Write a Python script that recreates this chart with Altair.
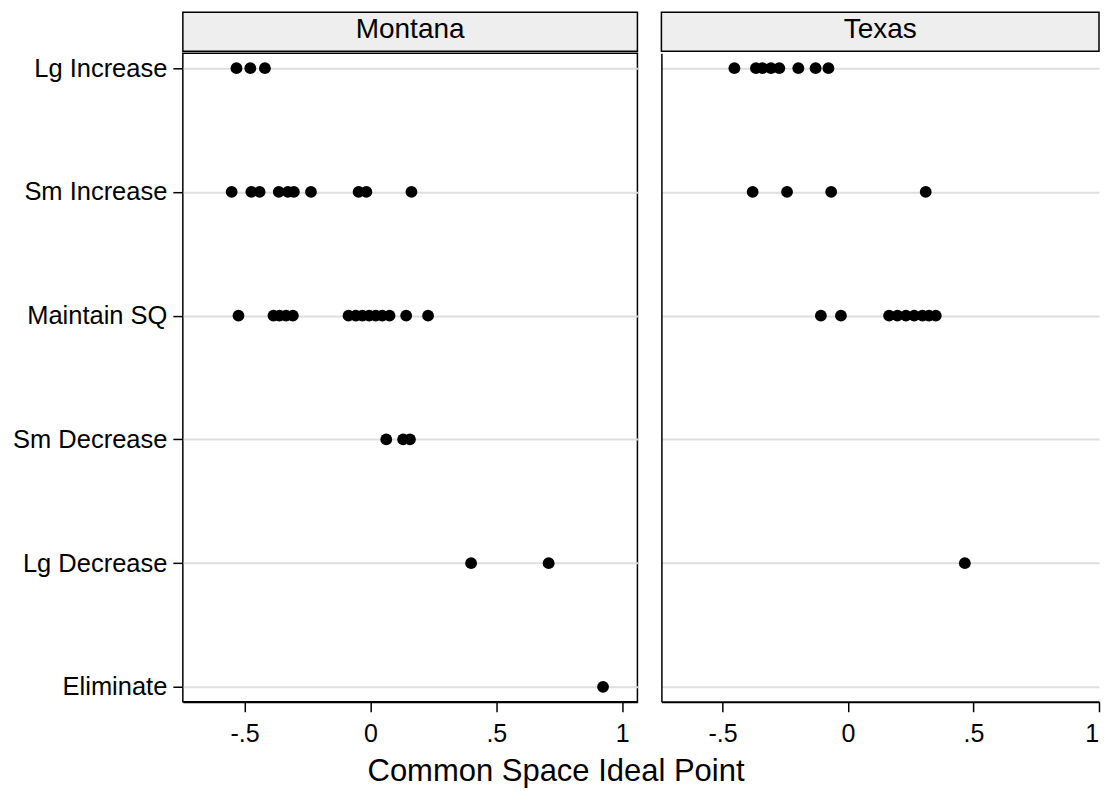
import altair as alt
import pandas as pd

categories = ["Lg Increase", "Sm Increase", "Maintain SQ", "Sm Decrease", "Lg Decrease", "Eliminate"]
states = ["Montana", "Texas"]

montana_lg_inc = [-0.532, -0.477, -0.419]
montana_sm_inc = [-0.551, -0.473, -0.440, -0.364, -0.328, -0.304, -0.236, -0.047, -0.016, 0.163]
montana_sq = [-0.524, -0.385, -0.361, -0.335, -0.308, -0.087, -0.058, -0.032, -0.005, 0.021, 0.047, 0.076, 0.142, 0.229]
montana_sm_dec = [0.063, 0.130, 0.157]
montana_lg_dec = [0.400, 0.708]
montana_elim = [0.924]

texas_lg_inc = [-0.453, -0.367, -0.341, -0.307, -0.274, -0.198, -0.129, -0.078]
texas_sm_inc = [-0.380, -0.243, -0.067, 0.310]
texas_sq = [-0.108, -0.028, 0.164, 0.197, 0.231, 0.264, 0.297, 0.323, 0.350]
texas_sm_dec = []
texas_lg_dec = [0.466]
texas_elim = []

x_ticks = [-0.5, 0, 0.5, 1]

series = {
    "Montana": [montana_lg_inc, montana_sm_inc, montana_sq, montana_sm_dec, montana_lg_dec, montana_elim],
    "Texas": [texas_lg_inc, texas_sm_inc, texas_sq, texas_sm_dec, texas_lg_dec, texas_elim],
}
rows = []
for st in states:
    for cat, vals in zip(categories, series[st]):
        for v in vals:
            rows.append({"state": st, "category": cat, "ideal": v})
df = pd.DataFrame(rows)

FONT = "Liberation Sans"
HEAD_H = 39
PLOT_H = 649
M_PX = 252
T_PX = 251
M_W = 455
T_W = 438
M_DOMAIN = [-0.745, -0.745 + M_W / M_PX]
T_DOMAIN = [-0.744, -0.744 + T_W / T_PX]

label_expr = "(datum.value < 0 ? '-' : '') + replace(format(abs(datum.value), '~g'), /^0\\./, '.')"


def header(state, width):
    d = pd.DataFrame({"state": [state]})
    return alt.Chart(d).mark_text(
        fontSize=28, font=FONT, color="black", baseline="middle", align="center"
    ).encode(
        x=alt.value(width / 2), y=alt.value(HEAD_H / 2 - 2), text="state:N"
    ).properties(width=width, height=HEAD_H,
                 view=alt.ViewBackground(fill="#eeeeee", stroke="black", strokeWidth=1.5))


def panel(state, first, domain, width):
    view = (alt.ViewBackground(stroke="black", strokeWidth=1.5) if first
            else alt.ViewBackground(stroke="transparent"))
    return alt.Chart(df).transform_filter(
        alt.datum.state == state
    ).mark_circle(size=140, color="black", opacity=1).encode(
        x=alt.X("ideal:Q", scale=alt.Scale(domain=domain, nice=False, zero=False),
                axis=alt.Axis(values=x_ticks, labelExpr=label_expr, title=None,
                              tickSize=10, tickColor="black", tickWidth=1.5,
                              domain=True, domainColor="black", domainWidth=2,
                              labelFontSize=25, labelFont=FONT, labelColor="black",
                              labelPadding=10, grid=False, labelFlush=5)),
        y=alt.Y("category:N", sort=categories,
                scale=alt.Scale(type="point", padding=0.12, domain=categories),
                axis=alt.Axis(title=None, labels=first, ticks=first, domain=not first,
                              domainColor="black", domainWidth=1.5,
                              tickSize=10, tickColor="black", tickWidth=1.5,
                              labelFontSize=25.5, labelFont=FONT, labelColor="black",
                              labelPadding=6, grid=True, gridColor="#dedede", gridWidth=2)),
    ).properties(width=width, height=PLOT_H, view=view)


col_m = alt.vconcat(header("Montana", M_W), panel("Montana", True, M_DOMAIN, M_W), spacing=0)
col_t = alt.vconcat(header("Texas", T_W), panel("Texas", False, T_DOMAIN, T_W), spacing=0)

chart = alt.hconcat(col_m, col_t, spacing=22).properties(
    title=alt.TitleParams("Common Space Ideal Point", orient="bottom", anchor="middle",
                          fontSize=31, font=FONT, fontWeight="normal", color="black", offset=10),
    padding={"top": 3, "left": 3, "right": 0, "bottom": 0},
    background="white",
)

chart.save("out.html", embed_options={"renderer": "svg", "actions": False})
